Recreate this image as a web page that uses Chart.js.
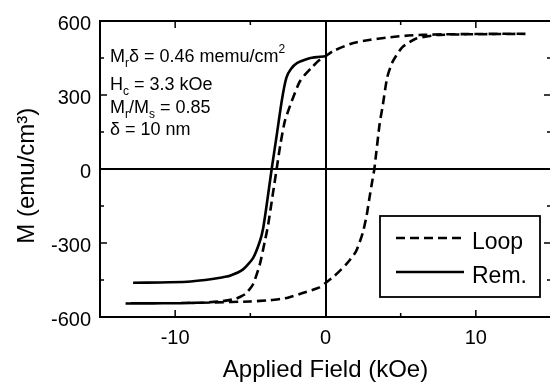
<!DOCTYPE html>
<html><head><meta charset="utf-8">
<script src="https://cdn.jsdelivr.net/npm/chart.js@4/dist/chart.umd.min.js"></script>
<style>
html,body{margin:0;padding:0;overflow:hidden;background:#fff;width:550px;height:387px}
#wrap{width:560px;height:387px}
</style></head>
<body><div id="wrap"><canvas id="c" width="560" height="387"></canvas></div>
<script>
const seriesNames = ['Loop', 'Rem.'];
// hysteresis loop: descending branch (+H -> -H) followed by ascending branch (-H -> +H)
const loopH = [13.3, 11.5, 9.5, 8.0, 6.5, 5.5, 4.9, 4.0, 3.0, 1.8, 0.5, 0, -0.5, -0.95, -1.4, -1.75, -2.25, -2.7, -3.0, -3.25, -3.5, -3.82, -4.04, -4.37, -4.81, -5.3, -5.7, -6.0, -7.0, -8.0, -10.0, -13.3,
               -10, -7.5, -5.03, -3.7, -2.93, -2.5, -1.52, -0.4, 0.04, 0.6, 1.37, 2.03, 2.47, 2.74, 2.91, 3.13, 3.25, 3.6, 3.8, 4.1, 4.45, 5.1, 6.0, 7.4, 9.5, 11.5, 13.3];
const loopM = [548, 548, 547, 546, 544, 541, 538, 532, 524, 510, 478, 457, 437, 409, 380, 350, 274, 195, 100, 0, -100, -228, -294, -387, -466, -505, -519, -527, -537, -541, -544, -545,
               -544, -541, -537, -532, -526, -522, -503, -480, -460, -433, -387, -334, -261, -188, -122, -42, 0, 183, 254, 370, 433, 493, 528, 543, 546, 547, 548];
// remanence curve
const remH = [-12.8, -11, -9.2, -8, -7.0, -6.36, -5.48, -4.81, -4.37, -4.15, -3.9, -3.58, -3.25, -2.9, -2.6, -2.3, -1.9, -1.06, -0.5, 0];
const remM = [-461, -460, -457, -450, -441, -433, -407, -360, -294, -241, -140, 0, 135, 280, 370, 405, 429, 449, 454, 457];

const xRange = [-15, 15];
const yRange = [-600, 600];
const xLabelValues = [-10, 0, 10];
const yLabelValues = [-600, -300, 0, 300, 600];
const xTitle = 'Applied Field (kOe)';
const yTitle = 'M (emu/cm\u00B3)  ';
const noteLines = [
  [['M', ''], ['r', 'sub'], ['\u03B4 = 0.46 memu/cm', ''], ['2', 'sup']],
  [['H', ''], ['c', 'sub'], [' = 3.3 kOe', '']],
  [['M', ''], ['r', 'sub'], ['/M', ''], ['s', 'sub'], [' = 0.85', '']],
  [['\u03B4 = 10 nm', '']]
];

const FAM = '"Liberation Sans", Arial, Helvetica, sans-serif';

const framePlugin = {
  id: 'frameTicks',
  afterDraw(chart) {
    const {ctx, chartArea: a, scales: {x, y}} = chart;
    ctx.save();
    ctx.strokeStyle = '#000';
    ctx.lineWidth = 2;
    ctx.strokeRect(a.left, a.top, a.right - a.left, a.bottom - a.top);
    ctx.lineWidth = 1.5;
    ctx.beginPath();
    x.ticks.forEach(t => {
      const v = t.value;
      if (v <= xRange[0] || v >= xRange[1] || v === 0) return;
      const px = x.getPixelForValue(v);
      const len = v % 10 === 0 ? 7 : 4;
      ctx.moveTo(px, a.bottom); ctx.lineTo(px, a.bottom - len);
      ctx.moveTo(px, a.top); ctx.lineTo(px, a.top + len);
    });
    y.ticks.forEach(t => {
      const v = t.value;
      if (v <= yRange[0] || v >= yRange[1] || v === 0) return;
      const py = y.getPixelForValue(v);
      const len = v % 300 === 0 ? 7 : 4;
      ctx.moveTo(a.left, py); ctx.lineTo(a.left + len, py);
      ctx.moveTo(a.right, py); ctx.lineTo(a.right - len, py);
    });
    ctx.stroke();
    ctx.restore();
  }
};

const notesPlugin = {
  id: 'notes',
  afterDraw(chart) {
    const {ctx, chartArea: a} = chart;
    const baselines = [41, 69, 92, 114];
    ctx.save();
    ctx.fillStyle = '#000';
    ctx.textAlign = 'left';
    ctx.textBaseline = 'alphabetic';
    noteLines.forEach((segs, i) => {
      let cx = a.left + 10;
      const by = a.top + baselines[i];
      segs.forEach(([txt, kind]) => {
        let dy = 0;
        if (kind === 'sub') { ctx.font = '12px ' + FAM; dy = 5; }
        else if (kind === 'sup') { ctx.font = '12px ' + FAM; dy = -9; }
        else { ctx.font = '18px ' + FAM; }
        ctx.fillText(txt, cx, by + dy);
        cx += ctx.measureText(txt).width;
      });
    });
    ctx.restore();
  }
};

const legendPlugin = {
  id: 'boxLegend',
  afterDraw(chart) {
    const {ctx, chartArea: a} = chart;
    const bx = a.right - 171, by = a.bottom - 101, bw = 160, bh = 81;
    ctx.save();
    ctx.fillStyle = '#fff';
    ctx.fillRect(bx, by, bw, bh);
    ctx.strokeStyle = '#000';
    ctx.lineWidth = 1.8;
    ctx.strokeRect(bx, by, bw, bh);
    const rows = [22, 56];
    chart.data.datasets.forEach((ds, i) => {
      const ly = by + rows[i];
      ctx.beginPath();
      ctx.lineWidth = ds.borderWidth;
      ctx.setLineDash(ds.borderDash || []);
      ctx.moveTo(bx + 16, ly);
      ctx.lineTo(bx + 84, ly);
      ctx.stroke();
      ctx.setLineDash([]);
      ctx.fillStyle = '#000';
      ctx.font = '23px ' + FAM;
      ctx.textAlign = 'left';
      ctx.textBaseline = 'middle';
      ctx.fillText(ds.label, bx + 92, ly + 5);
    });
    ctx.restore();
  }
};

new Chart(document.getElementById('c'), {
  type: 'scatter',
  data: {
    datasets: [
      {
        label: seriesNames[0],
        data: loopH.map((h, i) => ({x: h, y: loopM[i]})),
        showLine: true, fill: false,
        borderColor: '#000', borderWidth: 2.6, borderDash: [9, 5],
        pointRadius: 0, tension: 0.2
      },
      {
        label: seriesNames[1],
        data: remH.map((h, i) => ({x: h, y: remM[i]})),
        showLine: true, fill: false,
        borderColor: '#000', borderWidth: 2.6,
        pointRadius: 0, tension: 0.2
      }
    ]
  },
  options: {
    responsive: false,
    animation: false,
    devicePixelRatio: 1,
    layout: {padding: {left: 0, right: 8, top: 15, bottom: 0}},
    plugins: {legend: {display: false}, tooltip: {enabled: false}},
    scales: {
      x: {
        type: 'linear', min: xRange[0], max: xRange[1],
        ticks: {
          stepSize: 5, autoSkip: false, maxRotation: 0, padding: 9,
          color: '#000', font: {family: FAM, size: 20},
          callback: v => xLabelValues.includes(v) ? String(v) : ''
        },
        grid: {
          drawTicks: false, lineWidth: 2,
          color: c => (c.tick && c.tick.value === 0) ? '#000' : 'rgba(0,0,0,0)'
        },
        border: {display: false},
        title: {display: true, text: xTitle, color: '#000', font: {family: FAM, size: 24}, padding: {top: 0, bottom: 2}},
        afterFit: s => { s.height = 70; }
      },
      y: {
        type: 'linear', min: yRange[0], max: yRange[1],
        ticks: {
          stepSize: 150, autoSkip: false, padding: 9, labelOffset: 3,
          color: '#000', font: {family: FAM, size: 20},
          callback: v => yLabelValues.includes(v) ? String(v) : ''
        },
        grid: {
          drawTicks: false, lineWidth: 2,
          color: c => (c.tick && c.tick.value === 0) ? '#000' : 'rgba(0,0,0,0)'
        },
        border: {display: false},
        title: {display: true, text: yTitle, color: '#000', font: {family: FAM, size: 24}, padding: {top: 13, bottom: 0}},
        afterFit: s => { s.width = 100; }
      }
    }
  },
  plugins: [framePlugin, notesPlugin, legendPlugin]
});
</script>
</body></html>
